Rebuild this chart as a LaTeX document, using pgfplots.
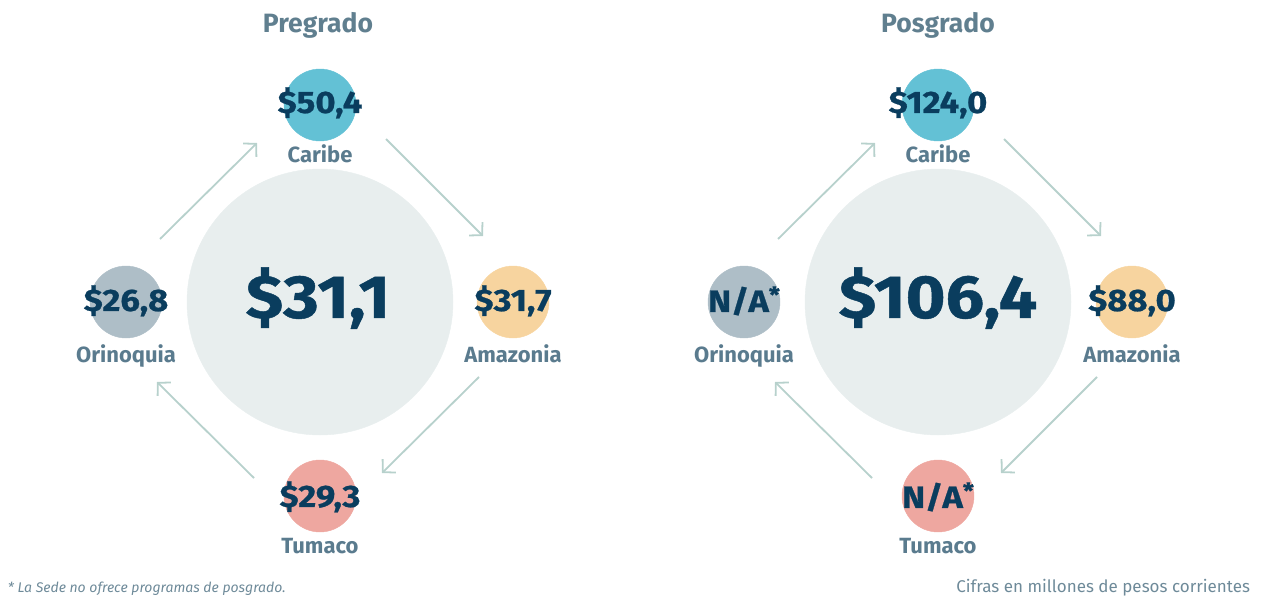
\documentclass[border=0pt]{standalone}
\usepackage{pgfplots}
\pgfplotsset{compat=1.18}
\usepackage{fontspec}
\setmainfont{Fira Sans}
\newfontfamily\heavy{Fira Sans}[BoldFeatures={FakeBold=0.7}]
\usetikzlibrary{arrows.meta}
\definecolor{navy}{HTML}{0A3D5E}
\definecolor{lbl}{HTML}{5A7B8E}
\definecolor{ttl}{HTML}{607F8F}
\definecolor{bigc}{HTML}{E8EEEE}
\definecolor{cari}{HTML}{63C1D5}
\definecolor{orin}{HTML}{AEBEC7}
\definecolor{amaz}{HTML}{F7D49F}
\definecolor{tuma}{HTML}{EEA7A0}
\definecolor{arr}{HTML}{B7D1CC}
\definecolor{foot}{HTML}{6E8A99}
\newcommand{\fs}[1]{\fontsize{#1}{#1}\selectfont}
\newcommand{\val}[1]{\scalebox{1.12}[1]{\fs{31}\heavy\bfseries #1}}
\newcommand{\bigval}[1]{\scalebox{1.12}[1]{\fs{61}\heavy\bfseries #1}}
\newcommand{\na}{N/A\raisebox{.3em}{\fs{22}*}}
\tikzset{
  txt/.style={anchor=base, inner sep=0pt, outer sep=0pt},
  ar/.style={draw=arr, line width=1.8pt, -{Straight Barb[length=9pt,width=19pt]}},
}
\begin{document}
\begin{tikzpicture}
\begin{axis}[
  width=1262pt, height=597pt, scale only axis,
  xmin=0, xmax=1262, ymin=0, ymax=597, y dir=reverse,
  hide axis, clip=false, enlargelimits=false,
]
\path (axis cs:0,0) rectangle (axis cs:1262,597);
% big circles
\addplot[only marks, mark=*, mark options={fill=bigc, draw=bigc}, mark size=133pt] coordinates {(320,302) (938,302)};
% arrows (left)
\addplot[ar, no markers] coordinates {(320,248) (320,172)};
\addplot[ar, no markers] coordinates {(320,357) (320,433)};
\addplot[ar, no markers] coordinates {(265,302) (190,302)};
\addplot[ar, no markers] coordinates {(375,302) (450,302)};
\addplot[ar, no markers] coordinates {(160,239) (257,143)};
\addplot[ar, no markers] coordinates {(386,139) (483,236)};
\addplot[ar, no markers] coordinates {(479,377) (382,473)};
\addplot[ar, no markers] coordinates {(254,478) (157,382)};
% arrows (right)
\addplot[ar, no markers] coordinates {(938,248) (938,172)};
\addplot[ar, no markers] coordinates {(938,357) (938,433)};
\addplot[ar, no markers] coordinates {(883,302) (808,302)};
\addplot[ar, no markers] coordinates {(993,302) (1068,302)};
\addplot[ar, no markers] coordinates {(778,239) (875,143)};
\addplot[ar, no markers] coordinates {(1004,139) (1101,236)};
\addplot[ar, no markers] coordinates {(1097,377) (1001,473)};
\addplot[ar, no markers] coordinates {(872,478) (775,382)};
% small circles
\addplot[only marks, mark=*, mark options={fill=cari, draw=cari}, mark size=36pt] coordinates {(320,105) (938,105)};
\addplot[only marks, mark=*, mark options={fill=orin, draw=orin}, mark size=36pt] coordinates {(126,302) (744,302)};
\addplot[only marks, mark=*, mark options={fill=amaz, draw=amaz}, mark size=36pt] coordinates {(513,302) (1132,302)};
\addplot[only marks, mark=*, mark options={fill=tuma, draw=tuma}, mark size=36pt] coordinates {(320,496) (938,496)};
% text anchors
\coordinate (t1) at (axis cs:318,33);
\coordinate (t2) at (axis cs:938,33);
\coordinate (l1) at (axis cs:320,163);
\coordinate (l2) at (axis cs:126,363);
\coordinate (l3) at (axis cs:513,363);
\coordinate (l4) at (axis cs:320,554);
\coordinate (r1) at (axis cs:938,163);
\coordinate (r2) at (axis cs:744,363);
\coordinate (r3) at (axis cs:1132,363);
\coordinate (r4) at (axis cs:938,554);
\coordinate (v1) at (axis cs:320,113);
\coordinate (v2) at (axis cs:126,311);
\coordinate (v3) at (axis cs:513,311);
\coordinate (v4) at (axis cs:320,507);
\coordinate (v0) at (axis cs:318,318);
\coordinate (w1) at (axis cs:938,113);
\coordinate (w2) at (axis cs:744,312);
\coordinate (w3) at (axis cs:1132,311);
\coordinate (w4) at (axis cs:938,508);
\coordinate (w0) at (axis cs:938,318);
\coordinate (f1) at (axis cs:8,593);
\coordinate (f2) at (axis cs:1250,593);
\end{axis}
% titles
\node[txt, text=ttl] at (t1) {\fs{26.5}\bfseries Pregrado};
\node[txt, text=ttl] at (t2) {\fs{26.5}\bfseries Posgrado};
% region labels
\node[txt, text=lbl] at (l1) {\fs{22}\bfseries Caribe};
\node[txt, text=lbl] at (l2) {\fs{22}\bfseries Orinoquia};
\node[txt, text=lbl] at (l3) {\fs{22}\bfseries Amazonia};
\node[txt, text=lbl] at (l4) {\fs{22}\bfseries Tumaco};
\node[txt, text=lbl] at (r1) {\fs{22}\bfseries Caribe};
\node[txt, text=lbl] at (r2) {\fs{22}\bfseries Orinoquia};
\node[txt, text=lbl] at (r3) {\fs{22}\bfseries Amazonia};
\node[txt, text=lbl] at (r4) {\fs{22}\bfseries Tumaco};
% values left
\node[txt, text=navy] at (v1) {\val{\$50,4}};
\node[txt, text=navy] at (v2) {\val{\$26,8}};
\node[txt, text=navy] at (v3) {\val{\$31,7}};
\node[txt, text=navy] at (v4) {\val{\$29,3}};
\node[txt, text=navy] at (v0) {\bigval{\$31,1}};
% values right
\node[txt, text=navy] at (w1) {\val{\$124,0}};
\node[txt, text=navy] at (w2) {\val{\na}};
\node[txt, text=navy] at (w3) {\val{\$88,0}};
\node[txt, text=navy] at (w4) {\val{\na}};
\node[txt, text=navy] at (w0) {\bigval{\$106,4}};
% footers
\node[txt, anchor=base west, text=foot] at (f1) {\fs{14}\itshape * La Sede no ofrece programas de posgrado.};
\node[txt, anchor=base east, text=foot] at (f2) {\fs{17}Cifras en millones de pesos corrientes};
\end{tikzpicture}
\end{document}
